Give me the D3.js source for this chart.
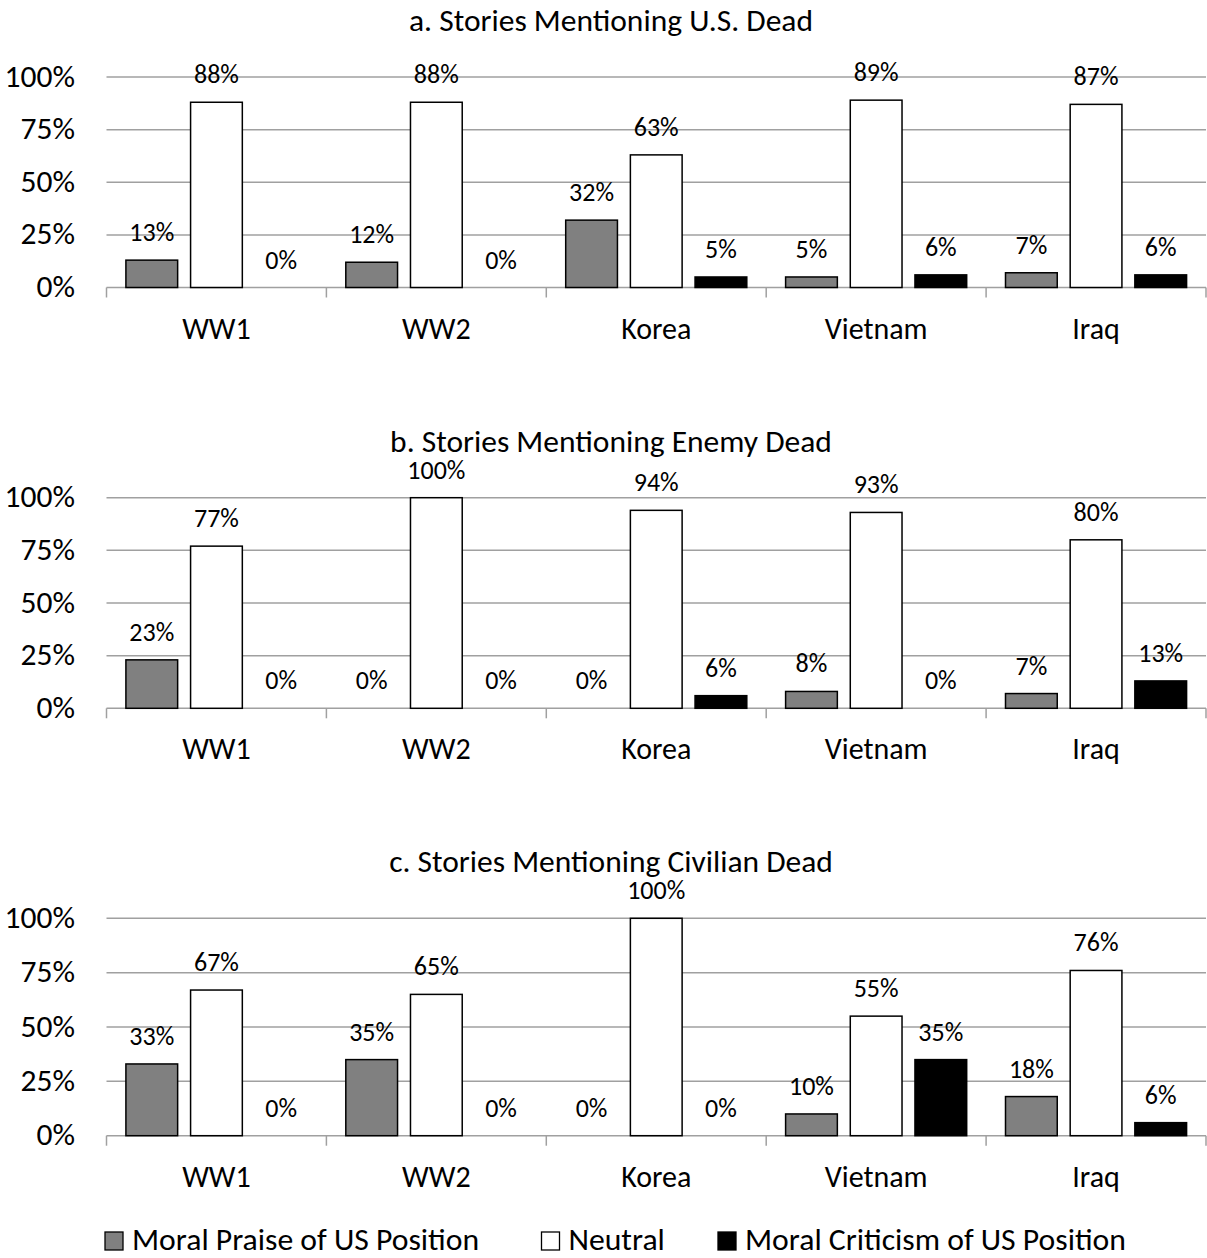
<!DOCTYPE html>
<html>
<head>
<meta charset="utf-8">
<script src="https://cdn.jsdelivr.net/npm/d3@7"></script>
<style>
  body { margin: 0; background: #fff; }
  text { font-family: Carlito, Calibri, Lato, "Open Sans", sans-serif; fill: #000; }
</style>
</head>
<body>
<script>
var wars = ["WW1", "WW2", "Korea", "Vietnam", "Iraq"]
var series = ["Moral Praise of US Position", "Neutral", "Moral Criticism of US Position"]
var seriesColors = ["#808080", "#ffffff", "#000000"]
var yTicks = [0, 25, 50, 75, 100]

var titles = [
    "a. Stories Mentioning U.S. Dead",
    "b. Stories Mentioning Enemy Dead",
    "c. Stories Mentioning Civilian Dead"
]

// one row per war: praise, neutral, criticism (percent)
var usDead = [
    [13, 88, 0],
    [12, 88, 0],
    [32, 63, 5],
    [5, 89, 6],
    [7, 87, 6]
]
var enemyDead = [
    [23, 77, 0],
    [0, 100, 0],
    [0, 94, 6],
    [8, 93, 0],
    [7, 80, 13]
]
var civilianDead = [
    [33, 67, 0],
    [35, 65, 0],
    [0, 100, 0],
    [10, 55, 35],
    [18, 76, 6]
]

var width = 1207,
    height = 1258

var svg = d3.select("body")
    .append("svg")
    .attr("width", width)
    .attr("height", height)

var x = d3.scaleBand()
    .domain(wars)
    .range([106.5, 1206])

var xInner = d3.scaleBand()
    .domain(series)
    .range([0, x.bandwidth()])
    .paddingInner(0.2)
    .paddingOuter(0.3)

var panels = [
    {title: titles[0], data: usDead, top: 77, bottom: 287.5},
    {title: titles[1], data: enemyDead, top: 497.7, bottom: 708.3},
    {title: titles[2], data: civilianDead, top: 918.3, bottom: 1135.7}
]

panels.forEach(function(p){
    var y = d3.scaleLinear().domain([0, 100]).range([p.bottom, p.top])
    var g = svg.append("g")

    g.append("text")
        .attr("x", 611)
        .attr("y", p.top - 46)
        .attr("text-anchor", "middle")
        .style("font-size", "31.5px")
        .text(p.title)

    // gridlines
    g.selectAll(".grid")
        .data(yTicks)
        .enter().append("line")
        .attr("x1", x.range()[0])
        .attr("x2", x.range()[1])
        .attr("y1", function(d){ return y(d) })
        .attr("y2", function(d){ return y(d) })
        .attr("stroke", "#a0a0a0")
        .attr("stroke-width", 1.5)

    // y labels
    g.selectAll(".ylab")
        .data(yTicks)
        .enter().append("text")
        .attr("x", 75)
        .attr("y", function(d){ return y(d) + 9.5 })
        .attr("text-anchor", "end")
        .style("font-size", "31.5px")
        .text(function(d){ return d + "%" })

    // category ticks
    var tickXs = wars.map(function(w){ return x(w) }).concat([x.range()[1]])
    g.selectAll(".tick")
        .data(tickXs)
        .enter().append("line")
        .attr("x1", function(d){ return d })
        .attr("x2", function(d){ return d })
        .attr("y1", p.bottom)
        .attr("y2", p.bottom + 10)
        .attr("stroke", "#a0a0a0")
        .attr("stroke-width", 1.5)

    g.selectAll(".cat")
        .data(wars)
        .enter().append("text")
        .attr("x", function(d){ return x(d) + x.bandwidth() / 2 })
        .attr("y", p.bottom + 51)
        .attr("text-anchor", "middle")
        .style("font-size", "30px")
        .text(function(d){ return d })

    var groups = g.selectAll(".group")
        .data(p.data)
        .enter().append("g")
        .attr("transform", function(d, i){ return "translate(" + x(wars[i]) + ",0)" })

    var cells = function(row){
        return row.map(function(v, j){ return {value: v, series: series[j], color: seriesColors[j]} })
    }

    groups.selectAll("rect")
        .data(cells)
        .enter().append("rect")
        .filter(function(d){ return d.value > 0 })
        .attr("x", function(d){ return xInner(d.series) })
        .attr("width", xInner.bandwidth())
        .attr("y", function(d){ return y(d.value) })
        .attr("height", function(d){ return y(0) - y(d.value) })
        .attr("fill", function(d){ return d.color })
        .attr("stroke", "#000")
        .attr("stroke-width", 1.5)

    groups.selectAll(".val")
        .data(cells)
        .enter().append("text")
        .attr("x", function(d){ return xInner(d.series) + xInner.bandwidth() / 2 })
        .attr("y", function(d){ return y(d.value) - 19 })
        .attr("text-anchor", "middle")
        .style("font-size", "26px")
        .text(function(d){ return d.value + "%" })
})

// legend
var legendX = [105, 541.5, 718]
var legend = svg.selectAll(".legend")
    .data(series)
    .enter().append("g")
    .attr("transform", function(d, i){ return "translate(" + legendX[i] + ",1232)" })

legend.append("rect")
    .attr("width", 18)
    .attr("height", 18)
    .attr("fill", function(d, i){ return seriesColors[i] })
    .attr("stroke", "#000")
    .attr("stroke-width", 1.3)

legend.append("text")
    .attr("x", 27)
    .attr("y", 17.5)
    .style("font-size", "31.7px")
    .text(function(d){ return d })
</script>
</body>
</html>
